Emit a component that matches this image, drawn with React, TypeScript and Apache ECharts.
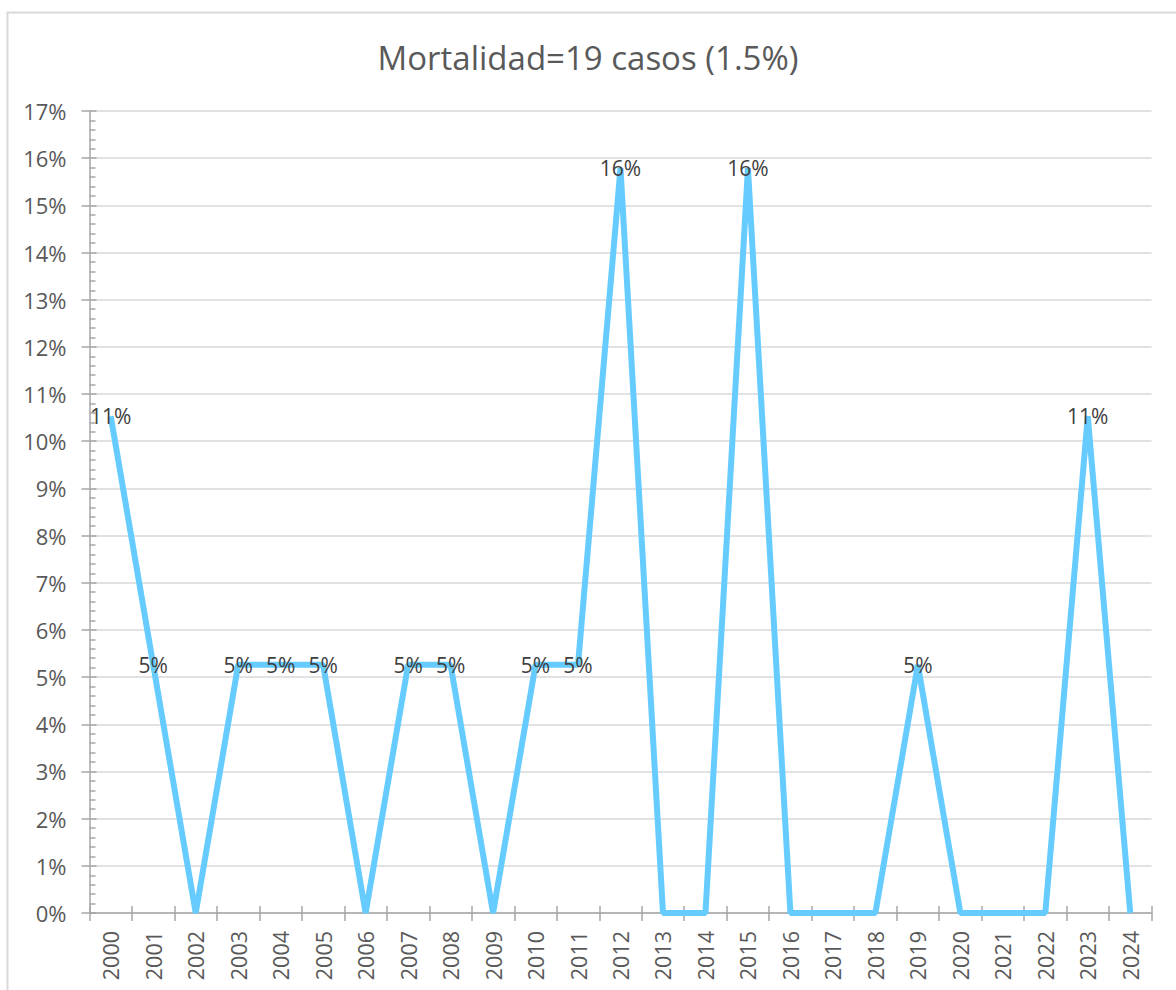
import React, { useEffect, useRef } from "react";
import * as echarts from "echarts";

const years = [
  "2000", "2001", "2002", "2003", "2004", "2005", "2006", "2007", "2008", "2009",
  "2010", "2011", "2012", "2013", "2014", "2015", "2016", "2017", "2018", "2019",
  "2020", "2021", "2022", "2023", "2024",
];
// percent of the 19 deaths per year
const mortality = [
  10.53, 5.26, 0, 5.26, 5.26, 5.26, 0, 5.26, 5.26, 0,
  5.26, 5.26, 15.79, 0, 0, 15.79, 0, 0, 0, 5.26,
  0, 0, 0, 10.53, 0,
];
const titleText = "Mortalidad=19 casos (1.5%)";

const FONT = "'Open Sans', Lato, sans-serif";
const AXIS_GRAY = "#a6a6a6";
const TEXT_GRAY = "#595959";

export default function App() {
  const ref = useRef<HTMLDivElement>(null);
  useEffect(() => {
    if (!ref.current) return;
    const chart = echarts.init(ref.current, undefined, { renderer: "svg" });
    const yCommon = {
      type: "value",
      min: 0,
      max: 17,
      interval: 1,
      position: "left",
    };
    const xCommon = {
      type: "category",
      data: years,
      boundaryGap: true,
      position: "bottom",
    };
    chart.setOption({
      animation: false,
      backgroundColor: "#ffffff",
      textStyle: { fontFamily: FONT },
      title: {
        text: titleText,
        left: "center",
        top: 36,
        textStyle: { fontFamily: FONT, fontSize: 33, fontWeight: "normal", color: TEXT_GRAY },
      },
      graphic: [
        {
          type: "rect",
          shape: { x: 7.5, y: 12.5, width: 1300, height: 1100 },
          style: { fill: "none", stroke: "#d9d9d9", lineWidth: 2 },
          silent: true,
        },
      ],
      grid: { left: 89.5, right: 24.5, top: 111, bottom: 77 },
      xAxis: [
        {
          ...xCommon,
          axisLine: { lineStyle: { color: AXIS_GRAY, width: 1.5 } },
          axisTick: { show: true, interval: 0, length: 8, lineStyle: { color: AXIS_GRAY, width: 1.5 } },
          axisLabel: {
            interval: 0,
            rotate: 90,
            margin: 18,
            fontSize: 21.5,
            color: TEXT_GRAY,
            fontFamily: FONT,
          },
        },
        {
          ...xCommon,
          axisLine: { show: false },
          axisTick: { show: true, inside: true, interval: 0, length: 7, lineStyle: { color: AXIS_GRAY, width: 1.5 } },
          axisLabel: { show: false },
        },
      ],
      yAxis: [
        {
          ...yCommon,
          axisLine: { show: true, lineStyle: { color: AXIS_GRAY, width: 1.5 } },
          axisTick: { show: true, length: 8, lineStyle: { color: AXIS_GRAY, width: 1.5 } },
          axisLabel: {
            formatter: "{value}%",
            margin: 23,
            fontSize: 22,
            color: TEXT_GRAY,
            fontFamily: FONT,
          },
          splitLine: { show: true, lineStyle: { color: "#d9d9d9", width: 1.5 } },
        },
        {
          ...yCommon,
          axisLine: { show: false },
          axisTick: { show: true, inside: true, length: 7, lineStyle: { color: AXIS_GRAY, width: 1.5 } },
          minorTick: { show: true, splitNumber: 5, length: 6, lineStyle: { color: AXIS_GRAY, width: 1.5 } },
          axisLabel: { show: false },
          splitLine: { show: false },
        },
      ],
      series: [
        {
          type: "line",
          xAxisIndex: 0,
          yAxisIndex: 0,
          data: mortality,
          symbol: "circle",
          symbolSize: 0.01,
          showSymbol: true,
          itemStyle: { color: "#66ccff" },
          lineStyle: { color: "#66ccff", width: 6 },
          label: {
            show: true,
            position: "inside",
            fontSize: 21,
            color: "#404040",
            fontFamily: FONT,
            formatter: (p: any) => (p.value > 0 ? Math.round(p.value) + "%" : ""),
          },
          z: 5,
        },
      ],
    });
    return () => chart.dispose();
  }, []);
  return (
    <div
      ref={ref}
      style={{ position: "absolute", left: 0, top: 0, width: 1176, height: 990 }}
    />
  );
}
